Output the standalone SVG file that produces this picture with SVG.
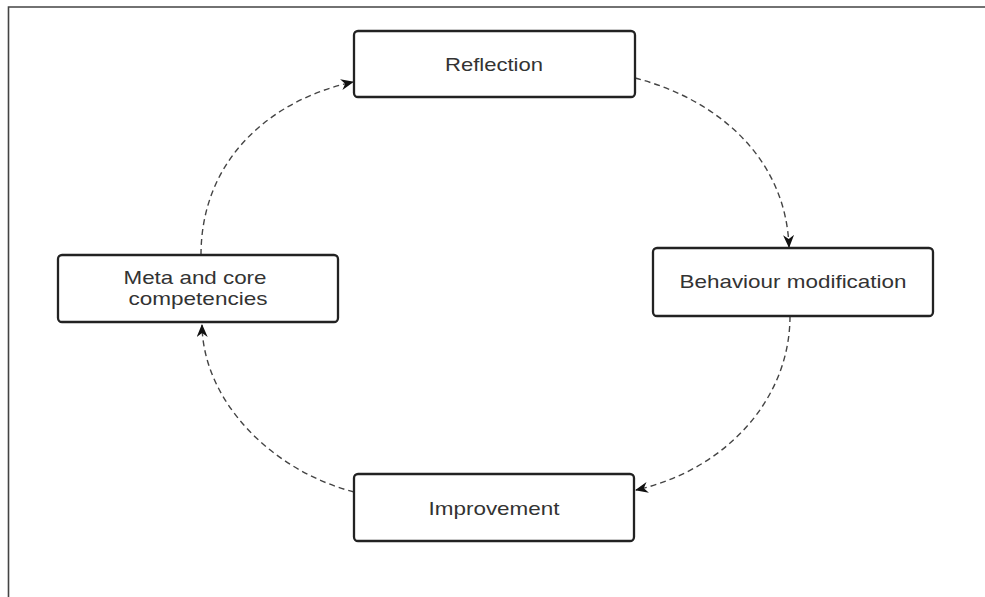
<svg xmlns="http://www.w3.org/2000/svg" width="985" height="597" viewBox="0 0 985 597">
<style>
.box{fill:#fff;stroke:#222;stroke-width:2.3}
.lbl{font-family:"Liberation Sans",Arial,sans-serif;font-size:19px;fill:#333;text-anchor:middle}
.conn{fill:none;stroke:#444;stroke-width:1.4;stroke-dasharray:6 4}
.frame{fill:none;stroke:#444;stroke-width:1.6}
</style>
<defs>
<marker id="arr" viewBox="0 0 13 11" refX="12" refY="5.5" markerWidth="13" markerHeight="11" markerUnits="userSpaceOnUse" orient="auto">
<path d="M0,0 L13,5.5 L0,11 L4,5.5 z" fill="#111"/>
</marker>
</defs>
<path class="frame" d="M8.5,597 L8.5,7 L985,7"/>
<g id="connectors">
<path class="conn" d="M635,78 C720,100 786,160 789,247" marker-end="url(#arr)"/>
<path class="conn" d="M790,316 C790,400 725,470 636,490" marker-end="url(#arr)"/>
<path class="conn" d="M354,492 C270,470 203,400 202,325" marker-end="url(#arr)"/>
<path class="conn" d="M201,255 C201,160 270,100 353,82" marker-end="url(#arr)"/>
</g>
<g id="reflection">
<rect class="box" x="354" y="31" width="281" height="66" rx="4"/>
<text class="lbl" x="494" y="71" textLength="98" lengthAdjust="spacingAndGlyphs">Reflection</text>
</g>
<g id="behaviour">
<rect class="box" x="653" y="248" width="280" height="68" rx="4"/>
<text class="lbl" x="793" y="288" textLength="227" lengthAdjust="spacingAndGlyphs">Behaviour modification</text>
</g>
<g id="improvement">
<rect class="box" x="354" y="474" width="280" height="67" rx="4"/>
<text class="lbl" x="494" y="515" textLength="131" lengthAdjust="spacingAndGlyphs">Improvement</text>
</g>
<g id="meta">
<rect class="box" x="58" y="255" width="280" height="67" rx="4"/>
<text class="lbl" x="195" y="284" textLength="143" lengthAdjust="spacingAndGlyphs">Meta and core</text>
<text class="lbl" x="198" y="305" textLength="139" lengthAdjust="spacingAndGlyphs">competencies</text>
</g>
</svg>
